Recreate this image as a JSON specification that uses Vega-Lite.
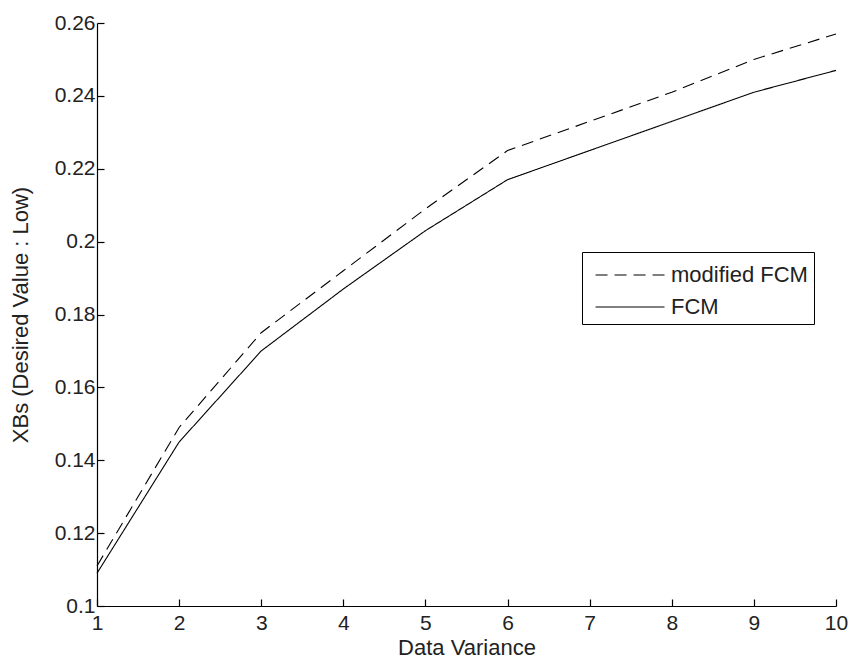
{
  "$schema": "https://vega.github.io/schema/vega-lite/v6.json",
  "width": 739,
  "height": 583,
  "autosize": "none",
  "padding": {"left": 97, "top": 23, "right": 13, "bottom": 57},
  "background": "white",
  "config": {
    "view": {"stroke": null},
    "font": "Liberation Sans",
    "axis": {
      "grid": false,
      "domainColor": "#000000",
      "tickColor": "#000000",
      "labelColor": "#222222",
      "titleColor": "#222222",
      "labelFont": "Liberation Sans",
      "titleFont": "Liberation Sans",
      "labelFontSize": 21,
      "titleFontSize": 22,
      "titleFontWeight": "normal",
      "tickSize": -7,
      "domainWidth": 1.2,
      "tickWidth": 1.2,
      "labelFlush": false,
      "labelOverlap": false
    }
  },
  "data": {
    "values": [
      {"variance": 1, "xbs": 0.111, "method": "modified FCM"},
      {"variance": 2, "xbs": 0.149, "method": "modified FCM"},
      {"variance": 3, "xbs": 0.175, "method": "modified FCM"},
      {"variance": 4, "xbs": 0.192, "method": "modified FCM"},
      {"variance": 5, "xbs": 0.209, "method": "modified FCM"},
      {"variance": 6, "xbs": 0.225, "method": "modified FCM"},
      {"variance": 7, "xbs": 0.233, "method": "modified FCM"},
      {"variance": 8, "xbs": 0.241, "method": "modified FCM"},
      {"variance": 9, "xbs": 0.250, "method": "modified FCM"},
      {"variance": 10, "xbs": 0.257, "method": "modified FCM"},
      {"variance": 1, "xbs": 0.109, "method": "FCM"},
      {"variance": 2, "xbs": 0.145, "method": "FCM"},
      {"variance": 3, "xbs": 0.170, "method": "FCM"},
      {"variance": 4, "xbs": 0.187, "method": "FCM"},
      {"variance": 5, "xbs": 0.203, "method": "FCM"},
      {"variance": 6, "xbs": 0.217, "method": "FCM"},
      {"variance": 7, "xbs": 0.225, "method": "FCM"},
      {"variance": 8, "xbs": 0.233, "method": "FCM"},
      {"variance": 9, "xbs": 0.241, "method": "FCM"},
      {"variance": 10, "xbs": 0.247, "method": "FCM"}
    ]
  },
  "mark": {"type": "line", "color": "#000000", "strokeWidth": 1.1},
  "encoding": {
    "x": {
      "field": "variance",
      "type": "quantitative",
      "title": "Data Variance",
      "scale": {"domain": [1, 10], "nice": false, "zero": false},
      "axis": {"values": [1,2,3,4,5,6,7,8,9,10], "labelPadding": 13, "titlePadding": 4}
    },
    "y": {
      "field": "xbs",
      "type": "quantitative",
      "title": "XBs (Desired Value : Low)",
      "scale": {"domain": [0.1, 0.26], "nice": false, "zero": false},
      "axis": {"values": [0.1,0.12,0.14,0.16,0.18,0.2,0.22,0.24,0.26], "labelExpr": "format(datum.value, '.2~f')", "labelPadding": 9, "titlePadding": 22}
    },
    "strokeDash": {
      "field": "method",
      "type": "nominal",
      "scale": {"domain": ["modified FCM", "FCM"], "range": [[12, 7], [1, 0]]},
      "legend": {
        "orient": "none",
        "legendX": 485,
        "legendY": 229,
        "title": null,
        "symbolType": "M-0.59,0H3.72",
        "symbolStrokeColor": "#000000",
        "symbolFillColor": "transparent",
        "symbolStrokeWidth": 1.1,
        "symbolSize": 1024,
        "labelFontSize": 22,
        "labelColor": "#222222",
        "labelOffset": 49,
        "rowPadding": 4,
        "strokeColor": "#000000",
        "fillColor": "#ffffff",
        "padding": 6
      }
    }
  }
}
